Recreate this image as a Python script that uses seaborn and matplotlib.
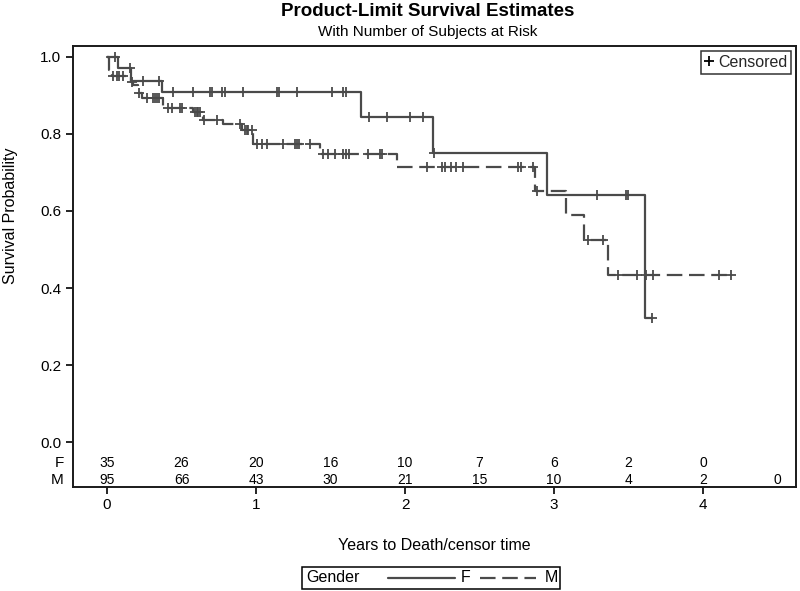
import numpy as np
import pandas as pd
import matplotlib
matplotlib.use("Agg")
import matplotlib.pyplot as plt
import matplotlib.transforms as mtransforms
from matplotlib.lines import Line2D
from matplotlib.patches import Rectangle
import seaborn as sns

# ---------------- data ----------------
# Kaplan-Meier step points: time at which the curve changes, survival after the step
f_step_t = [0.0, 0.076, 0.159, 0.367, 1.705, 2.19, 2.95, 3.61, 3.655]
f_step_s = [1.0, 0.970, 0.937, 0.909, 0.844, 0.751, 0.641, 0.322, 0.322]
f_censor_t = [0.054, 0.154, 0.244, 0.351, 0.441, 0.58, 0.691, 0.707, 0.77, 0.792,
              0.915, 1.143, 1.156, 1.273, 1.512, 1.586, 1.602, 1.755, 1.88, 2.03,
              2.12, 2.195, 3.29, 3.48, 3.495, 3.655]

m_step_t = [0.0, 0.01, 0.03, 0.159, 0.177, 0.21, 0.233, 0.374, 0.58, 0.629, 0.646,
            0.78, 0.904, 0.982, 1.43, 1.944, 2.87, 3.08, 3.2, 3.36, 4.185]
m_step_s = [1.0, 0.967, 0.950, 0.934, 0.927, 0.905, 0.894, 0.866, 0.857, 0.849, 0.836,
            0.825, 0.810, 0.773, 0.749, 0.715, 0.653, 0.589, 0.524, 0.435, 0.435]
m_censor_t = [0.042, 0.07, 0.08, 0.105, 0.168, 0.217, 0.266, 0.311, 0.322, 0.334,
              0.349, 0.412, 0.434, 0.49, 0.505, 0.59, 0.602, 0.613, 0.624, 0.653,
              0.735, 0.893, 0.926, 0.937, 0.948, 0.975, 1.005, 1.04, 1.075, 1.18,
              1.26, 1.275, 1.29, 1.36, 1.452, 1.485, 1.53, 1.586, 1.604, 1.626,
              1.754, 1.832, 1.845, 2.15, 2.245, 2.27, 2.31, 2.34, 2.39, 2.76,
              2.775, 2.86, 2.885, 3.23, 3.33, 3.43, 3.56, 3.62, 3.665, 4.11, 4.185]

risk_times = [0, 0.5, 1, 1.5, 2, 2.5, 3, 3.5, 4, 4.5]
risk_f = [35, 26, 20, 16, 10, 7, 6, 2, 0]
risk_m = [95, 66, 43, 30, 21, 15, 10, 4, 2, 0]

groups = ["F", "M"]
x_ticks = [0, 1, 2, 3, 4]
y_ticks = [0.0, 0.2, 0.4, 0.6, 0.8, 1.0]

# ---------------- styling ----------------
sns.set_theme(style="white")
plt.rcParams["font.family"] = ["Liberation Sans", "DejaVu Sans"]
LINE = "#4a4a4a"

fig = plt.figure(figsize=(8, 5.91), dpi=100)
ax = fig.add_axes([72.5 / 800, 1 - 487 / 591, (796 - 72.5) / 800, (487 - 46) / 591])


def surv_at(step_t, step_s, times):
    idx = np.searchsorted(np.asarray(step_t), np.asarray(times), side="right") - 1
    return np.asarray(step_s)[idx]


curves = pd.concat([
    pd.DataFrame({"time": f_step_t, "surv": f_step_s, "Gender": "F"}),
    pd.DataFrame({"time": m_step_t, "surv": m_step_s, "Gender": "M"}),
])
cens = pd.concat([
    pd.DataFrame({"time": f_censor_t, "surv": surv_at(f_step_t, f_step_s, f_censor_t), "Gender": "F"}),
    pd.DataFrame({"time": m_censor_t, "surv": surv_at(m_step_t, m_step_s, m_censor_t), "Gender": "M"}),
])

styles = {"F": "-", "M": (0, (7, 3))}
for g in groups:
    d = curves[curves["Gender"] == g]
    sns.lineplot(data=d, x="time", y="surv", ax=ax, color=LINE, lw=1.6,
                 drawstyle="steps-post", estimator=None, sort=False,
                 linestyle=styles[g], legend=False)
    c = cens[cens["Gender"] == g]
    sns.scatterplot(data=c, x="time", y="surv", ax=ax, marker="+", s=55,
                    color=LINE, linewidth=1.3, legend=False, zorder=3)

ax.set_xlim(-0.232, 4.624)
ax.set_ylim(-0.116, 1.028)
ax.set_xticks(x_ticks)
ax.set_xticklabels([str(t) for t in x_ticks])
ax.set_yticks(y_ticks)
ax.set_yticklabels([f"{v:.1f}" for v in y_ticks])
ax.tick_params(direction="out", length=5, width=1.2, colors="black", labelsize=11,
               left=True, bottom=True, pad=3)
for sp in ax.spines.values():
    sp.set_visible(True)
    sp.set_color("#1a1a1a")
    sp.set_linewidth(1.4)
    sp.set_zorder(5)

ax.set_xlabel("Years to Death/censor time", fontsize=11.5, color="black")
ax.xaxis.label.set_va("center")
ax.xaxis.set_label_coords(0.5, (487 - 546) / 441)
ax.set_ylabel("Survival Probability", fontsize=11.5, color="black")
ax.yaxis.label.set_va("center")
ax.yaxis.set_label_coords((11 - 72.5) / 723.5, (487 - 216) / 441)

# numbers at risk
trans = mtransforms.blended_transform_factory(ax.transData, ax.transAxes)
yF = (487 - 463) / 441
yM = (487 - 480) / 441
for t, n in zip(risk_times, risk_f):
    ax.text(t, yF, str(n), transform=trans, ha="center", va="center", fontsize=10, color="black")
for t, n in zip(risk_times, risk_m):
    ax.text(t, yM, str(n), transform=trans, ha="center", va="center", fontsize=10, color="black")
ax.text(-0.012, yF, "F", transform=ax.transAxes, ha="right", va="center", fontsize=11, color="black")
ax.text(-0.012, yM, "M", transform=ax.transAxes, ha="right", va="center", fontsize=11, color="black")

# censored legend
cens_handle = Line2D([], [], marker="+", ls="", color="black", markersize=7, markeredgewidth=1.3)
leg = ax.legend([cens_handle], ["Censored"], loc="upper right", frameon=True, fancybox=False,
                edgecolor="black", handlelength=0.5, handletextpad=0.3, borderpad=0.25,
                borderaxespad=0.3, fontsize=11.5)
leg.get_frame().set_linewidth(1.1)

# titles
fig.text(428 / 800, 1 - 12 / 591, "Product-Limit Survival Estimates", ha="center", va="center",
         fontsize=13.5, fontweight="bold", color="black")
fig.text(428 / 800, 1 - 32 / 591, "With Number of Subjects at Risk", ha="center", va="center",
         fontsize=11, color="black")

# gender legend (bottom)
fig.patches.append(Rectangle((302 / 800, 1 - 589 / 591), (560 - 302) / 800, 22 / 591,
                             transform=fig.transFigure, fill=False, edgecolor="black", lw=1.1))
ly = 1 - 578 / 591
fig.text(306 / 800, ly, "Gender", ha="left", va="center", fontsize=11.5, color="black")
fig.lines.append(Line2D([388 / 800, 455 / 800], [ly, ly], transform=fig.transFigure, color=LINE, lw=1.6))
fig.text(461 / 800, ly, "F", ha="left", va="center", fontsize=11.5, color="black")
fig.lines.append(Line2D([480 / 800, 536 / 800], [ly, ly], transform=fig.transFigure, color=LINE, lw=1.6,
                        linestyle=(0, (7, 3))))
fig.text(545 / 800, ly, "M", ha="left", va="center", fontsize=11.5, color="black")

fig.savefig("out.png", dpi=100, facecolor="white")
